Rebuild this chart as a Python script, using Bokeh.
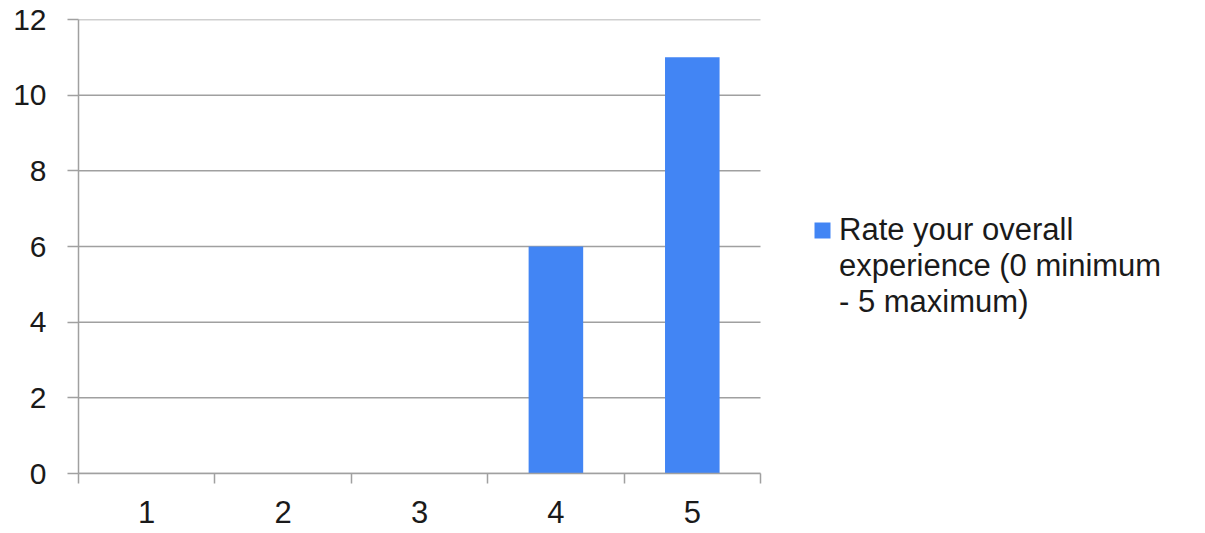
from bokeh.plotting import figure
from bokeh.models import Range1d, FixedTicker, Legend, LegendItem
from bokeh.embed import file_html
from bokeh.resources import INLINE

categories = ["1", "2", "3", "4", "5"]
values = [0, 0, 0, 6, 11]
y_ticks = [0, 2, 4, 6, 8, 10, 12]
series_name_lines = ["Rate your overall", "experience (0 minimum", "- 5 maximum)"]

FONT = "Liberation Sans"
GRAY = "#a0a0a0"
TXT = "#1a1a1a"
BAR = "#4285F4"

W, H = 1200, 528
LEFT, TOP, BOTTOM = 78, 19, 55
PLOT_W = 682            # width of the category area in pixels
FRAME_W = W - LEFT

n = len(categories)
xs = list(range(1, n + 1))
bounds = [i + 0.5 for i in range(n + 1)]
x_end = 0.5 + n * FRAME_W / PLOT_W

p = figure(width=W, height=H, output_backend="svg", toolbar_location=None,
           x_range=Range1d(0.5, x_end), y_range=Range1d(0, 12),
           min_border_left=LEFT, min_border_right=0, min_border_top=TOP,
           min_border_bottom=BOTTOM)
p.outline_line_color = None
p.background_fill_color = "white"
p.border_fill_color = "white"

p.xgrid.grid_line_color = None
p.ygrid.grid_line_color = None

# horizontal gridlines limited to the category area
p.segment(x0=[bounds[0]] * len(y_ticks), x1=[bounds[-1]] * len(y_ticks),
          y0=y_ticks, y1=y_ticks, line_color=GRAY, line_width=1.5)

r = p.vbar(x=xs, top=values, width=0.4, fill_color=BAR, line_color=None)

ya = p.yaxis[0]
ya.ticker = FixedTicker(ticks=y_ticks)
ya.major_tick_out = 11
ya.major_tick_in = 0
ya.minor_tick_out = 0
ya.minor_tick_in = 0
ya.major_tick_line_color = GRAY
ya.major_tick_line_width = 1.5
ya.axis_line_color = GRAY
ya.axis_line_width = 1.5
ya.major_label_text_font = FONT
ya.major_label_text_font_size = "30px"
ya.major_label_text_color = TXT
ya.major_label_standoff = 21

xa = p.xaxis[0]
xa.bounds = (bounds[0], bounds[-1])
xa.ticker = FixedTicker(ticks=xs, minor_ticks=bounds)
xa.major_label_overrides = {x: c for x, c in zip(xs, categories)}
xa.major_tick_out = 0
xa.major_tick_in = 0
xa.minor_tick_out = 10
xa.minor_tick_in = 0
xa.minor_tick_line_color = GRAY
xa.minor_tick_line_width = 1.5
xa.axis_line_color = GRAY
xa.axis_line_width = 1.5
xa.major_label_text_font = FONT
xa.major_label_text_font_size = "31px"
xa.major_label_text_color = TXT
xa.major_label_standoff = 17

# legend: one entry whose name wraps over three lines; the swatch sits on the first line
items = [LegendItem(label=series_name_lines[0], renderers=[r])]
for line in series_name_lines[1:]:
    blank = p.vbar(x=[], top=[], width=0.4, fill_alpha=0, line_alpha=0)
    items.append(LegendItem(label=line, renderers=[blank]))

legend = Legend(items=items, location=(734, 153), padding=0, margin=0, spacing=0,
                glyph_width=20, glyph_height=20, label_height=35, label_standoff=7,
                border_line_color=None, background_fill_alpha=0,
                label_text_font=FONT, label_text_font_size="31px",
                label_text_color=TXT)
p.add_layout(legend, "center")

open("out.html", "w").write(file_html(p, INLINE))
